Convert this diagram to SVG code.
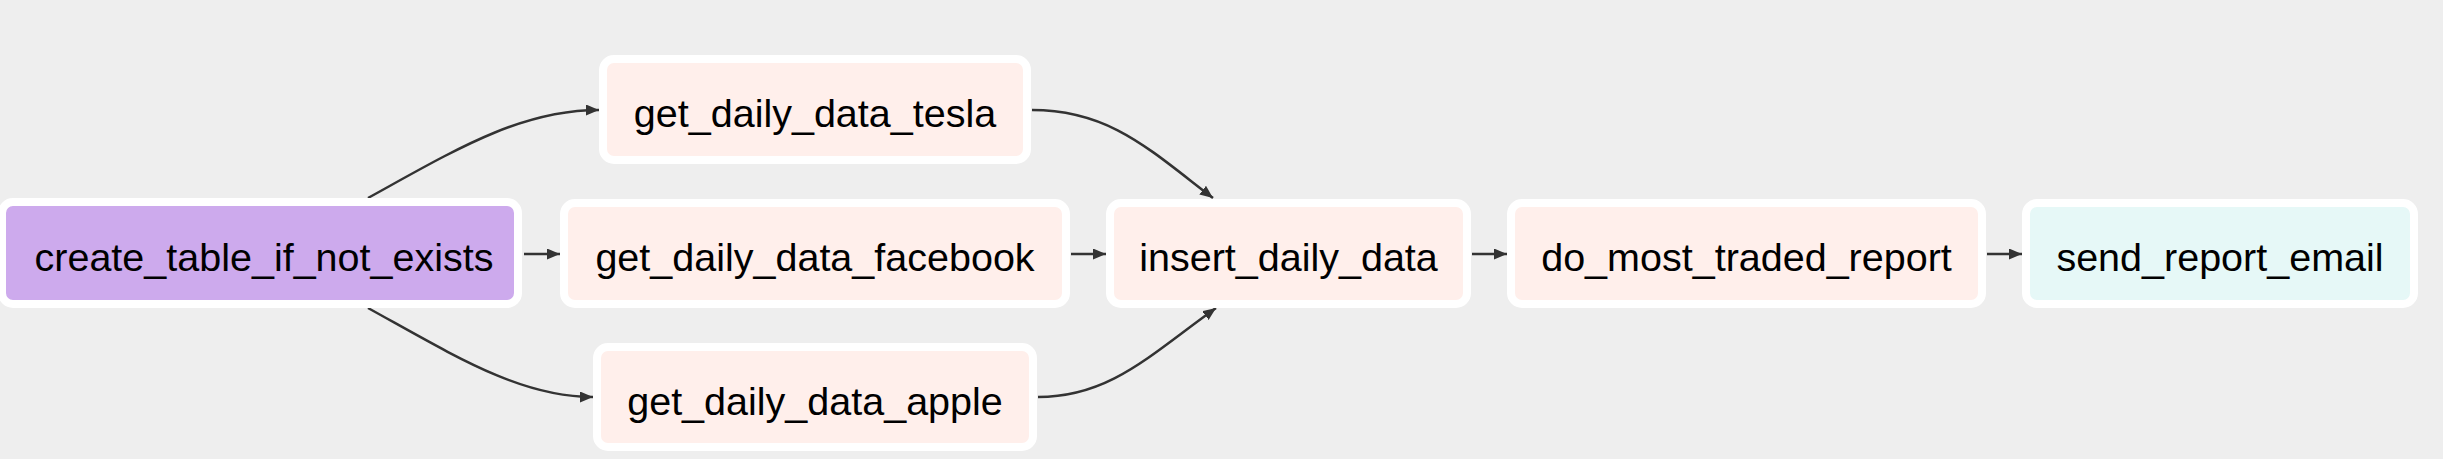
<svg xmlns="http://www.w3.org/2000/svg" width="2443" height="459" viewBox="0 0 2443 459">
  <style>
    .box { stroke: #ffffff; stroke-width: 8; }
    .py { fill: #ffefeb; }
    .pg { fill: #cdaaed; }
    .em { fill: #e6f8f7; }
    .lbl { font-family: "Liberation Sans", Arial, sans-serif; font-size: 39.5px; fill: #000000; text-anchor: middle; }
    .edge { fill: none; stroke: #333333; stroke-width: 2.5; }
  </style>
  <defs>
    <marker id="arr" markerUnits="userSpaceOnUse" markerWidth="13" markerHeight="11" refX="13" refY="5.5" orient="auto">
      <path d="M0,0 L13,5.5 L0,11 z" fill="#333333"/>
    </marker>
  </defs>
  <rect x="0" y="0" width="2443" height="459" fill="#eeeeee"/>

  <g id="connectors">
    <path class="edge" marker-end="url(#arr)" d="M368,198 C455,150 520,110 599,110"/>
    <path class="edge" marker-end="url(#arr)" d="M524,254 L560,254"/>
    <path class="edge" marker-end="url(#arr)" d="M368,308 C455,356 520,397 593,397"/>
    <path class="edge" marker-end="url(#arr)" d="M1032,110 C1110,110 1150,150 1213,198"/>
    <path class="edge" marker-end="url(#arr)" d="M1071,254 L1106,254"/>
    <path class="edge" marker-end="url(#arr)" d="M1038,397 C1110,397 1150,355 1216,308"/>
    <path class="edge" marker-end="url(#arr)" d="M1472,254 L1507,254"/>
    <path class="edge" marker-end="url(#arr)" d="M1987,254 L2022,254"/>
  </g>

  <g id="create_table_if_not_exists">
    <rect class="box pg" x="2" y="202" width="516" height="102" rx="11"/>
    <text class="lbl" x="264" y="271">create_table_if_not_exists</text>
  </g>
  <g id="get_daily_data_tesla">
    <rect class="box py" x="603" y="59" width="424" height="101" rx="11"/>
    <text class="lbl" x="815" y="127">get_daily_data_tesla</text>
  </g>
  <g id="get_daily_data_facebook">
    <rect class="box py" x="564" y="203" width="502" height="101" rx="11"/>
    <text class="lbl" x="815" y="271">get_daily_data_facebook</text>
  </g>
  <g id="get_daily_data_apple">
    <rect class="box py" x="597" y="347" width="436" height="100" rx="11"/>
    <text class="lbl" x="815" y="415">get_daily_data_apple</text>
  </g>
  <g id="insert_daily_data">
    <rect class="box py" x="1110" y="203" width="357" height="101" rx="11"/>
    <text class="lbl" x="1288.5" y="271">insert_daily_data</text>
  </g>
  <g id="do_most_traded_report">
    <rect class="box py" x="1511" y="203" width="471" height="101" rx="11"/>
    <text class="lbl" x="1746.5" y="271">do_most_traded_report</text>
  </g>
  <g id="send_report_email">
    <rect class="box em" x="2026" y="203" width="388" height="101" rx="11"/>
    <text class="lbl" x="2220" y="271">send_report_email</text>
  </g>
</svg>
